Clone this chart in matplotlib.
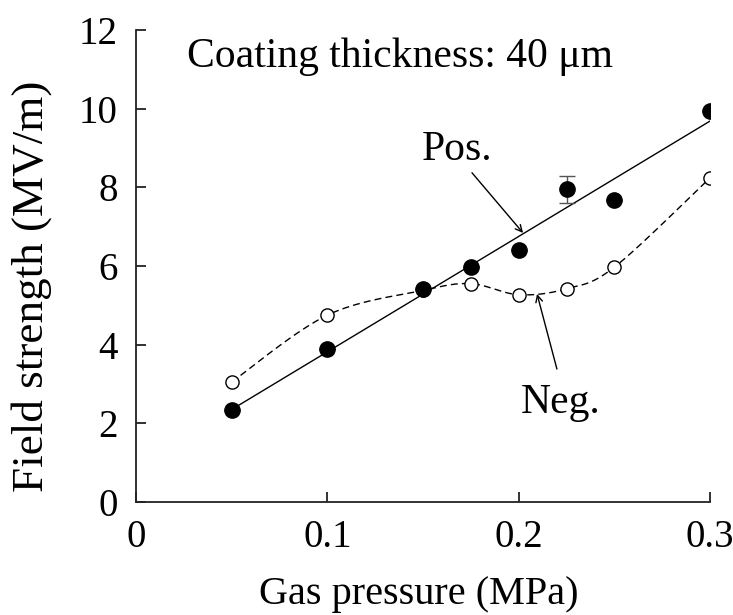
import numpy as np
import matplotlib
matplotlib.use("Agg")
import matplotlib.pyplot as plt

plt.rcParams['font.family'] = ['Liberation Serif', 'DejaVu Serif']

# Data
pressure_pos = [0.05, 0.1, 0.15, 0.175, 0.2, 0.225, 0.25, 0.3]
field_pos = [2.34, 3.89, 5.42, 5.98, 6.40, 7.95, 7.68, 9.95]
err_pos = [0, 0, 0, 0, 0, 0.35, 0, 0]

pressure_neg = [0.05, 0.1, 0.15, 0.175, 0.2, 0.225, 0.25, 0.3]
field_neg = [3.05, 4.75, 5.38, 5.55, 5.27, 5.42, 5.97, 8.24]

xticks = [0, 0.1, 0.2, 0.3]
xticklabels = ['0', '0.1', '0.2', '0.3']
yticks = [0, 2, 4, 6, 8, 10, 12]


def smooth_curve(x, y, n=40):
    """Excel-style smoothed line (cubic Bezier with Catmull-Rom control points)."""
    P = np.column_stack([x, y]).astype(float)
    out = []
    m = len(P)
    for i in range(m - 1):
        p0 = P[i - 1] if i > 0 else P[i]
        p1 = P[i]
        p2 = P[i + 1]
        p3 = P[i + 2] if i + 2 < m else P[i + 1]
        c1 = p1 + (p2 - p0) / 6.0
        c2 = p2 - (p3 - p1) / 6.0
        t = np.linspace(0, 1, n)[:, None]
        seg = ((1 - t) ** 3) * p1 + 3 * ((1 - t) ** 2) * t * c1 + 3 * (1 - t) * t ** 2 * c2 + t ** 3 * p2
        if i > 0:
            seg = seg[1:]
        out.append(seg)
    out = np.vstack(out)
    return out[:, 0], out[:, 1]


fig = plt.figure(figsize=(7.33, 6.15), dpi=100)
ax = fig.add_axes([136 / 733, 1 - 502 / 615, (710 - 136) / 733, (502 - 30) / 615])

# Linear fit for positive
coef = np.polyfit(pressure_pos, field_pos, 1)
xf = np.array([pressure_pos[0], pressure_pos[-1]])
ax.plot(xf, np.polyval(coef, xf), color='black', lw=1.0, zorder=2)

# Smoothed dashed curve for negative
sx, sy = smooth_curve(pressure_neg, field_neg)
ax.plot(sx, sy, color='black', lw=1.0, dashes=(5, 3), zorder=2)

# Markers
ax.plot(pressure_neg, field_neg, 'o', ms=9.5, mfc='white', mec='black', mew=1.0, zorder=3)
ax.errorbar(pressure_pos, field_pos, yerr=err_pos, fmt='o', ms=11, mfc='black', mec='black',
            ecolor='#555555', elinewidth=1.0, capsize=6, capthick=1.0, zorder=4)

ax.set_xlim(0, 0.3)
ax.set_ylim(0, 12)
ax.set_xticks(xticks)
ax.set_xticklabels(xticklabels)
ax.set_yticks(yticks)

for s in ['top', 'right']:
    ax.spines[s].set_visible(False)
for s in ['left', 'bottom']:
    ax.spines[s].set_linewidth(1.3)
    ax.spines[s].set_color('#222222')

ax.tick_params(axis='both', direction='in', length=7.5, width=1.3, colors='#222222',
               labelsize=28, labelcolor='black')
ax.tick_params(axis='y', pad=13)
ax.tick_params(axis='x', pad=12)

ax.set_xlabel('Gas pressure (MPa)', fontsize=29)
ax.xaxis.set_label_coords((419 - 136) / 574, (502 - 576) / 472)
ax.set_ylabel('Field strength (MV/m)', fontsize=32.5)
ax.yaxis.set_label_coords((52 - 136) / 574, (502 - 286) / 472)

ax.text(0.0267, 11.06, 'Coating thickness: 40 μm', fontsize=30, ha='left', va='baseline')

ax.annotate('', xy=(0.2023, 6.84), xytext=(0.1756, 8.37),
            arrowprops=dict(arrowstyle='->', color='black', lw=1.0, shrinkA=0, shrinkB=0,
                            mutation_scale=12))
ax.text(0.1678, 8.70, 'Pos.', fontsize=30, ha='center', va='baseline')

ax.annotate('', xy=(0.2096, 5.29), xytext=(0.2200, 3.38),
            arrowprops=dict(arrowstyle='->', color='black', lw=1.0, shrinkA=0, shrinkB=0,
                            mutation_scale=12))
ax.text(0.2221, 2.26, 'Neg.', fontsize=30, ha='center', va='baseline')

fig.savefig('out.png', dpi=100)
